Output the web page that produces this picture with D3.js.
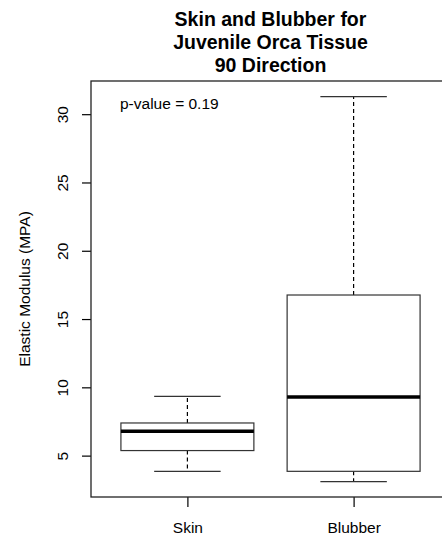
<!DOCTYPE html>
<html>
<head>
<meta charset="utf-8">
<script src="https://cdn.jsdelivr.net/npm/d3@7"></script>
<style>
  body { margin: 0; background: #fff; }
  text { font-family: "Liberation Sans", Arial, sans-serif; fill: #000; }
</style>
</head>
<body>
<div id="vis"></div>
<script>
// boxplot of elastic modulus, skin vs blubber

// data (five-number summaries)
const CATEGORIES = ["Skin", "Blubber"];
const LOWER = [3.85, 3.10];
const Q1 = [5.37, 3.85];
const MEDIAN = [6.78, 9.29];
const Q3 = [7.39, 16.76];
const UPPER = [9.34, 31.28];
const Y_TICKS = [5, 10, 15, 20, 25, 30];

const TITLE_LINES = ["Skin and Blubber for", "Juvenile Orca Tissue", "90 Direction"];
const Y_LABEL = "Elastic Modulus (MPA)";
const NOTE = "p-value = 0.19";

// frame
const FRAME_WIDTH = 442;
const FRAME_HEIGHT = 537;
const PLOT = {left: 91, right: 450, top: 81, bottom: 497};

const svg = d3.select("#vis")
  .append("svg")
    .attr("width", FRAME_WIDTH)
    .attr("height", FRAME_HEIGHT);

// scales (R style, 4% padding)
const X_SCALE = d3.scaleLinear()
  .domain([0.42, 2.58])
  .range([PLOT.left, PLOT.right]);

const Y_SCALE = d3.scaleLinear()
  .domain([1.97, 32.43])
  .range([PLOT.bottom, PLOT.top]);

const UNIT = X_SCALE(2) - X_SCALE(1);
const BOX_W = 0.8 * UNIT;
const CAP_W = 0.4 * UNIT;

const data = CATEGORIES.map((c, i) => ({
  name: c, pos: i + 1,
  lo: LOWER[i], q1: Q1[i], med: MEDIAN[i], q3: Q3[i], hi: UPPER[i]
}));

const boxes = svg.selectAll(".box")
  .data(data)
  .enter().append("g")
    .attr("class", "box");

// whiskers (dashed)
boxes.append("line")
  .attr("x1", d => X_SCALE(d.pos)).attr("x2", d => X_SCALE(d.pos))
  .attr("y1", d => Y_SCALE(d.q3)).attr("y2", d => Y_SCALE(d.hi))
  .attr("stroke", "#000").attr("stroke-width", 1.2).attr("stroke-dasharray", "4,3");
boxes.append("line")
  .attr("x1", d => X_SCALE(d.pos)).attr("x2", d => X_SCALE(d.pos))
  .attr("y1", d => Y_SCALE(d.q1)).attr("y2", d => Y_SCALE(d.lo))
  .attr("stroke", "#000").attr("stroke-width", 1.2).attr("stroke-dasharray", "4,3");

// staples
boxes.append("line")
  .attr("x1", d => X_SCALE(d.pos) - CAP_W / 2).attr("x2", d => X_SCALE(d.pos) + CAP_W / 2)
  .attr("y1", d => Y_SCALE(d.hi)).attr("y2", d => Y_SCALE(d.hi))
  .attr("stroke", "#333").attr("stroke-width", 1.2);
boxes.append("line")
  .attr("x1", d => X_SCALE(d.pos) - CAP_W / 2).attr("x2", d => X_SCALE(d.pos) + CAP_W / 2)
  .attr("y1", d => Y_SCALE(d.lo)).attr("y2", d => Y_SCALE(d.lo))
  .attr("stroke", "#333").attr("stroke-width", 1.2);

// boxes
boxes.append("rect")
  .attr("x", d => X_SCALE(d.pos) - BOX_W / 2)
  .attr("y", d => Y_SCALE(d.q3))
  .attr("width", BOX_W)
  .attr("height", d => Y_SCALE(d.q1) - Y_SCALE(d.q3))
  .attr("fill", "#fff")
  .attr("stroke", "#333").attr("stroke-width", 1.2);

// medians
boxes.append("line")
  .attr("x1", d => X_SCALE(d.pos) - BOX_W / 2).attr("x2", d => X_SCALE(d.pos) + BOX_W / 2)
  .attr("y1", d => Y_SCALE(d.med)).attr("y2", d => Y_SCALE(d.med))
  .attr("stroke", "#000").attr("stroke-width", 3.5);

// y axis
const yAxis = svg.append("g")
  .attr("transform", "translate(" + PLOT.left + ",0)")
  .call(d3.axisLeft(Y_SCALE).tickValues(Y_TICKS).tickSize(9).tickFormat(d3.format("d")));
yAxis.select(".domain").remove();
yAxis.selectAll(".tick line").attr("stroke", "#000").attr("stroke-width", 1.2);
yAxis.selectAll(".tick text")
  .attr("x", null).attr("dy", null)
  .attr("text-anchor", "middle")
  .attr("transform", "translate(-23,0) rotate(-90)")
  .attr("y", 0)
  .style("font-size", "15.5px")
  .style("font-family", "'Liberation Sans', Arial, sans-serif");

// x axis
const xAxis = svg.append("g")
  .attr("transform", "translate(0," + PLOT.bottom + ")")
  .call(d3.axisBottom(X_SCALE).tickValues([1, 2]).tickSize(10)
    .tickFormat(d => CATEGORIES[d - 1]));
xAxis.select(".domain").remove();
xAxis.selectAll(".tick line").attr("stroke", "#000").attr("stroke-width", 1.2);
xAxis.selectAll(".tick text")
  .attr("y", 36).attr("dy", null)
  .style("font-size", "15.5px")
  .style("font-family", "'Liberation Sans', Arial, sans-serif");

// plot frame
svg.append("rect")
  .attr("x", PLOT.left).attr("y", PLOT.top)
  .attr("width", PLOT.right - PLOT.left)
  .attr("height", PLOT.bottom - PLOT.top)
  .attr("fill", "none")
  .attr("stroke", "#222").attr("stroke-width", 1.3);

// title
svg.append("g").selectAll("text")
  .data(TITLE_LINES)
  .enter().append("text")
    .attr("x", (PLOT.left + PLOT.right) / 2)
    .attr("y", (d, i) => 26 + i * 22.8)
    .attr("text-anchor", "middle")
    .style("font-size", "19.5px")
    .style("font-weight", "bold")
    .text(d => d);

// y label
svg.append("text")
  .attr("transform", "translate(30," + ((PLOT.top + PLOT.bottom) / 2) + ") rotate(-90)")
  .attr("text-anchor", "middle")
  .style("font-size", "15.5px")
  .text(Y_LABEL);

// p-value note
svg.append("text")
  .attr("x", 120).attr("y", 109)
  .style("font-size", "15.5px")
  .text(NOTE);
</script>
</body>
</html>
